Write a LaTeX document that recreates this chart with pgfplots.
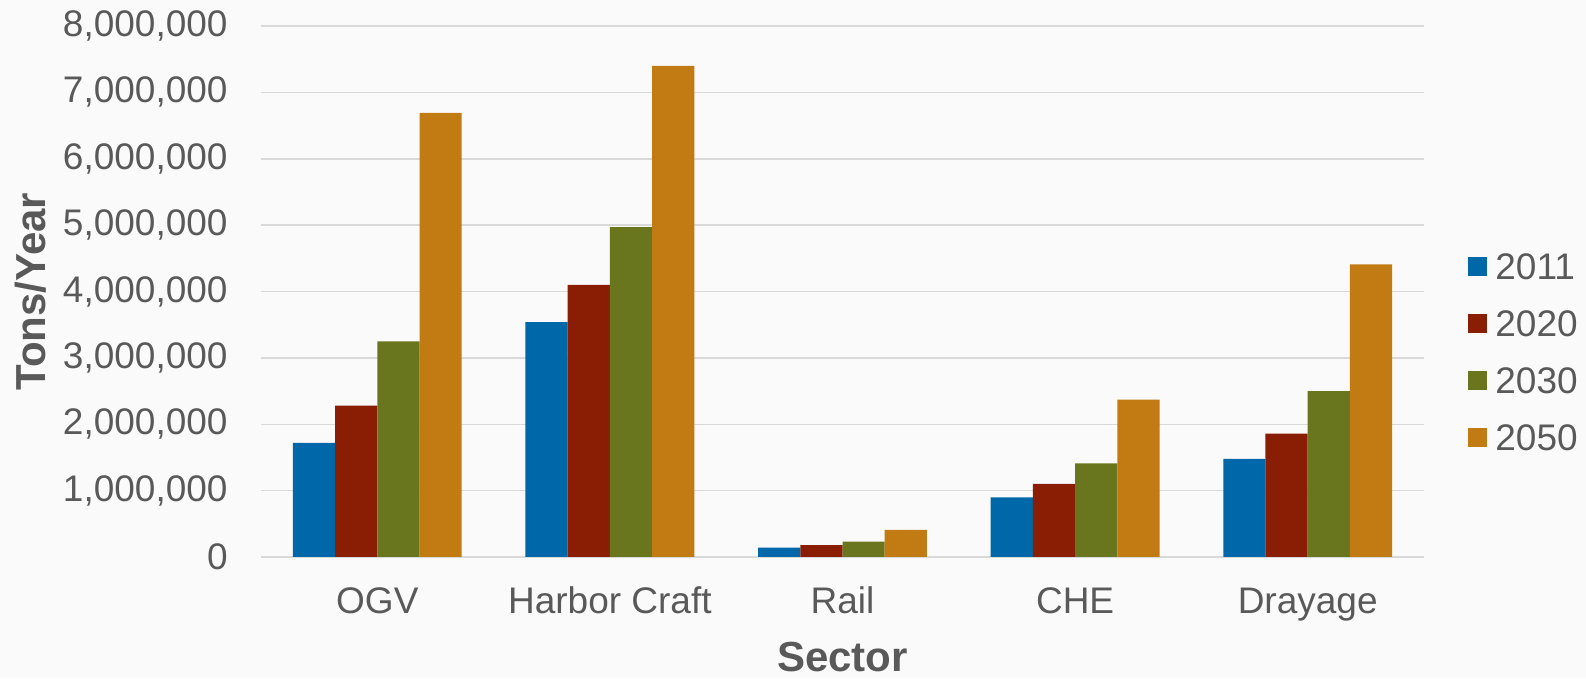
\documentclass[border=0pt]{standalone}
\usepackage{fontspec}
\setmainfont{Liberation Sans}
\usepackage{pgfplots}
\pgfplotsset{compat=1.18}
\definecolor{c2011}{RGB}{0,103,168}
\definecolor{c2020}{RGB}{137,30,5}
\definecolor{c2030}{RGB}{106,118,29}
\definecolor{c2050}{RGB}{194,123,18}
\definecolor{txt}{HTML}{595959}
\definecolor{gridc}{HTML}{D9D9D9}
\definecolor{bg}{HTML}{FAFAFA}
\newcommand{\tickfont}{\fontsize{18.5}{18.5}\selectfont}
\newcommand{\labfont}{\fontsize{21}{21}\selectfont\bfseries}

\begin{document}
\begin{tikzpicture}
\fill[bg] (0pt,0pt) rectangle (793pt,339pt);
\begin{axis}[
    at={(130.5pt,60.5pt)}, anchor=south west,
    width=581.5pt, height=265.5pt, scale only axis,
    xmin=-0.5, xmax=4.5,
    ymin=0, ymax=8000000,
    ybar=0pt, bar width=0.1815,
    xtick={0,1,2,3,4},
    xticklabels={OGV,Harbor Craft,Rail,CHE,Drayage},
    ytick={0,1000000,2000000,3000000,4000000,5000000,6000000,7000000,8000000},
    scaled y ticks=false,
    /pgf/number format/.cd, fixed, 1000 sep={,}, assume math mode=true,
    /pgfplots/.cd,
    major tick length=0pt,
    axis line style={draw=none},
    ymajorgrids=true,
    grid style={gridc, line width=0.75pt},
    ticklabel style={font=\tickfont, text=txt, inner sep=0pt},
    yticklabel style={anchor=east},
    yticklabel shift=16.5pt,
    xticklabel style={anchor=base},
    xticklabel shift=28.5pt,
    xlabel={Sector},
    ylabel={Tons/Year},
    label style={font=\labfont, text=txt},
    xlabel style={at={(axis description cs:0.5,0)}, anchor=center, yshift=-50pt},
    ylabel style={at={(axis description cs:-0.1978,0.5)}, anchor=center},
    legend cell align=left,
    legend image code/.code={\fill[#1] (0pt,-4.75pt) rectangle (9.5pt,4.75pt);},
    legend style={at={(axis description cs:1.0378,0.5736)}, anchor=north west,
        draw=none, fill=none, inner sep=0pt, font=\tickfont, text=txt,
        nodes={inner sep=0pt, text height=13.3pt, text depth=0pt},
        row sep=15.2pt, column sep=4pt},
]
\addplot[fill=c2011, draw=none] coordinates {(0,1720000) (1,3540000) (2,140000) (3,900000) (4,1480000)};
\addplot[fill=c2020, draw=none] coordinates {(0,2280000) (1,4100000) (2,180000) (3,1100000) (4,1860000)};
\addplot[fill=c2030, draw=none] coordinates {(0,3250000) (1,4970000) (2,230000) (3,1410000) (4,2500000)};
\addplot[fill=c2050, draw=none] coordinates {(0,6690000) (1,7400000) (2,410000) (3,2370000) (4,4410000)};
\legend{2011,2020,2030,2050}
\end{axis}
\end{tikzpicture}
\end{document}
